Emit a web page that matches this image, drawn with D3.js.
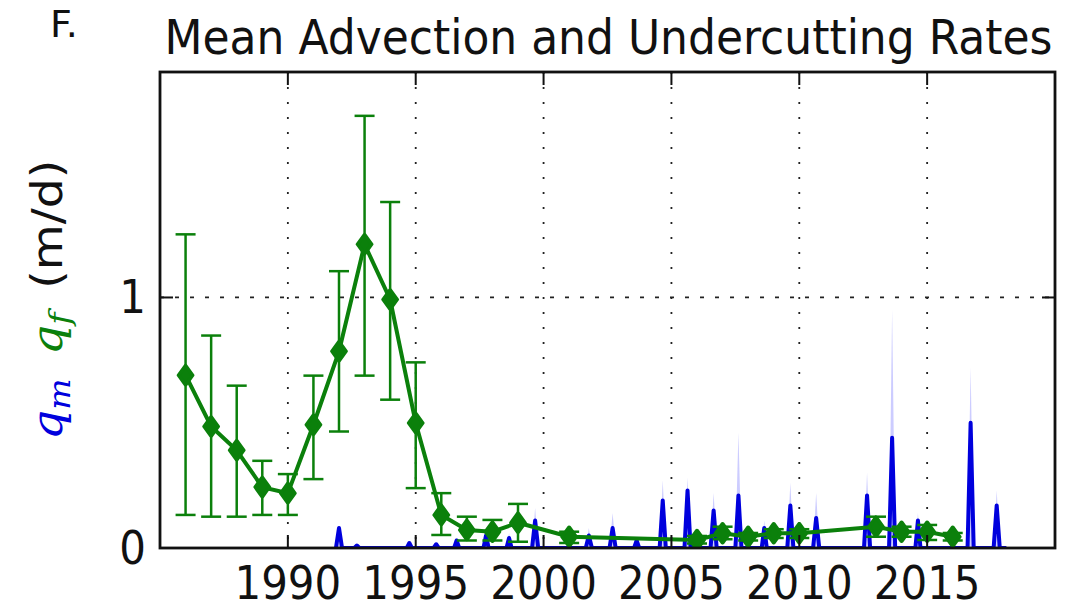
<!DOCTYPE html>
<html>
<head>
<meta charset="utf-8">
<script src="https://cdn.jsdelivr.net/npm/d3@7"></script>
<style>
    body { margin: 0; background: #fff; }
    #chart { width: 1069px; height: 611px; }
    text { font-family: "DejaVu Sans", sans-serif; fill: #111; }
</style>
</head>
<body>
<div id="chart"></div>
<script>
// q_f : yearly mean undercutting rate (m/d) with error bar limits
const qfYears  = [1986, 1987, 1988, 1989, 1990, 1991, 1992, 1993, 1994, 1995, 1996, 1997, 1998, 1999, 2001, 2006, 2007, 2008, 2009, 2010, 2013, 2014, 2015, 2016];
const qfValues = [0.69, 0.485, 0.39, 0.243, 0.219, 0.492, 0.785, 1.212, 0.992, 0.499, 0.132, 0.072, 0.065, 0.101, 0.045, 0.032, 0.059, 0.045, 0.059, 0.059, 0.085, 0.065, 0.065, 0.045];
const qfLower  = [0.132, 0.125, 0.125, 0.132, 0.132, 0.275, 0.465, 0.688, 0.592, 0.239, 0.052, 0.03, 0.03, 0.025, 0.02, 0.018, 0.035, 0.03, 0.04, 0.04, 0.045, 0.045, 0.032, 0.03];
const qfUpper  = [1.252, 0.848, 0.648, 0.348, 0.295, 0.688, 1.105, 1.725, 1.381, 0.741, 0.219, 0.125, 0.112, 0.176, 0.065, 0.048, 0.085, 0.06, 0.075, 0.075, 0.125, 0.085, 0.092, 0.06];

// q_m : advection rate series (summer spikes) and its upper uncertainty
const qmTimes  = [1991.88, 1992.0, 1992.12, 1992.6, 1992.7, 1992.8, 1994.65, 1994.75, 1994.85, 1995.7, 1995.8, 1995.9,
                  1996.5, 1996.6, 1996.7, 1997.65, 1997.75, 1997.85, 1998.55, 1998.65, 1998.75, 1999.55, 1999.67, 1999.79,
                  2001.65, 2001.77, 2001.89, 2002.58, 2002.7, 2002.82, 2003.54, 2003.64, 2003.74, 2004.54, 2004.66, 2004.78,
                  2005.51, 2005.63, 2005.75, 2006.53, 2006.65, 2006.77, 2007.5, 2007.62, 2007.74, 2008.53, 2008.63, 2008.73,
                  2009.53, 2009.65, 2009.77, 2010.54, 2010.66, 2010.78, 2012.53, 2012.65, 2012.77, 2013.51, 2013.63, 2013.75,
                  2014.54, 2014.64, 2014.74, 2016.58, 2016.7, 2016.82, 2017.6, 2017.72, 2017.84, 2018.1];
const qmValues = [0, 0.08, 0, 0, 0.01, 0, 0, 0.02, 0, 0, 0.015, 0,
                  0, 0.03, 0, 0, 0.05, 0, 0, 0.04, 0, 0, 0.11, 0,
                  0, 0.05, 0, 0, 0.08, 0, 0, 0.03, 0, 0, 0.19, 0,
                  0, 0.23, 0, 0, 0.15, 0, 0, 0.21, 0, 0, 0.08, 0,
                  0, 0.17, 0, 0, 0.12, 0, 0, 0.21, 0, 0, 0.44, 0,
                  0, 0.11, 0, 0, 0.5, 0, 0, 0.17, 0, 0];
const qmUpper  = [0, 0.09, 0, 0, 0.015, 0, 0, 0.03, 0, 0, 0.02, 0,
                  0, 0.04, 0, 0, 0.07, 0, 0, 0.06, 0, 0, 0.16, 0,
                  0, 0.08, 0, 0, 0.14, 0, 0, 0.04, 0, 0, 0.27, 0,
                  0, 0.28, 0, 0, 0.22, 0, 0, 0.46, 0, 0, 0.11, 0,
                  0, 0.26, 0, 0, 0.22, 0, 0, 0.3, 0, 0, 0.95, 0,
                  0, 0.14, 0, 0, 0.72, 0, 0, 0.23, 0, 0];

const xTicks = [1990, 1995, 2000, 2005, 2010, 2015];
const yTicks = [0, 1];

class RatesVis {

    constructor(parentElement) {
        this.parentElement = parentElement;
        this.initVis();
    }

    initVis() {
        let vis = this;

        vis.margin = {top: 72, right: 14, bottom: 63, left: 160};
        vis.outerW = 1069;
        vis.outerH = 611;
        vis.width = vis.outerW - vis.margin.left - vis.margin.right;
        vis.height = vis.outerH - vis.margin.top - vis.margin.bottom;

        vis.svg = d3.select("#" + vis.parentElement).append("svg")
            .attr("width", vis.outerW)
            .attr("height", vis.outerH);

        vis.g = vis.svg.append("g")
            .attr("transform", `translate(${vis.margin.left},${vis.margin.top})`);

        vis.x = d3.scaleLinear().domain([1985, 2020]).range([0, vis.width]);
        vis.y = d3.scaleLinear().domain([0, 1.9]).range([vis.height, 0]);

        vis.svg.append("defs").append("clipPath").attr("id", "plotClip")
            .append("rect").attr("width", vis.width).attr("height", vis.height);

        vis.updateVis();
    }

    updateVis() {
        let vis = this;

        // grid lines (dotted)
        vis.g.append("g").selectAll("line")
            .data(xTicks).enter().append("line")
            .attr("x1", d => vis.x(d)).attr("x2", d => vis.x(d))
            .attr("y1", 0).attr("y2", vis.height)
            .attr("stroke", "#222").attr("stroke-width", 1.8)
            .attr("stroke-dasharray", "2,13");

        vis.g.append("g").selectAll("line")
            .data(yTicks.filter(d => d > 0)).enter().append("line")
            .attr("x1", 0).attr("x2", vis.width)
            .attr("y1", d => vis.y(d)).attr("y2", d => vis.y(d))
            .attr("stroke", "#222").attr("stroke-width", 1.8)
            .attr("stroke-dasharray", "4,11");

        let plot = vis.g.append("g").attr("clip-path", "url(#plotClip)");

        // q_m uncertainty band + line
        let qm = qmTimes.map((t, i) => ({t: t, v: qmValues[i], u: qmUpper[i]}));

        plot.append("path")
            .datum(qm)
            .attr("fill", "rgba(50,50,255,0.25)")
            .attr("d", d3.area().x(d => vis.x(d.t)).y0(vis.y(0)).y1(d => vis.y(d.u)));

        plot.append("path")
            .datum(qm)
            .attr("fill", "none")
            .attr("stroke", "#0000dd")
            .attr("stroke-width", 4)
            .attr("stroke-linejoin", "round")
            .attr("d", d3.line().x(d => vis.x(d.t)).y(d => vis.y(d.v)));

        // q_f error bars, line and markers
        let qf = qfYears.map((yr, i) => ({t: yr, v: qfValues[i], lo: qfLower[i], hi: qfUpper[i]}));
        let green = "#0b800b";

        let bars = plot.append("g").selectAll("g").data(qf).enter().append("g")
            .attr("stroke", green).attr("stroke-width", 2.5);
        bars.append("line")
            .attr("x1", d => vis.x(d.t)).attr("x2", d => vis.x(d.t))
            .attr("y1", d => vis.y(d.lo)).attr("y2", d => vis.y(d.hi));
        bars.append("line")
            .attr("x1", d => vis.x(d.t) - 10).attr("x2", d => vis.x(d.t) + 10)
            .attr("y1", d => vis.y(d.lo)).attr("y2", d => vis.y(d.lo));
        bars.append("line")
            .attr("x1", d => vis.x(d.t) - 10).attr("x2", d => vis.x(d.t) + 10)
            .attr("y1", d => vis.y(d.hi)).attr("y2", d => vis.y(d.hi));

        plot.append("path")
            .datum(qf)
            .attr("fill", "none")
            .attr("stroke", green)
            .attr("stroke-width", 4)
            .attr("d", d3.line().x(d => vis.x(d.t)).y(d => vis.y(d.v)));

        plot.append("g").selectAll("path").data(qf).enter().append("path")
            .attr("transform", d => `translate(${vis.x(d.t)},${vis.y(d.v)}) scale(1.25,1)`)
            .attr("d", d3.symbol().type(d3.symbolDiamond).size(110))
            .attr("stroke", green).attr("stroke-width", 3).attr("stroke-linejoin", "round")
            .attr("fill", green);

        // inward ticks on all four sides
        let tickLen = 13;
        let ticks = vis.g.append("g").attr("stroke", "#111").attr("stroke-width", 2);
        xTicks.forEach(d => {
            ticks.append("line").attr("x1", vis.x(d)).attr("x2", vis.x(d))
                .attr("y1", vis.height).attr("y2", vis.height - tickLen);
            ticks.append("line").attr("x1", vis.x(d)).attr("x2", vis.x(d))
                .attr("y1", 0).attr("y2", tickLen);
        });
        yTicks.forEach(d => {
            ticks.append("line").attr("x1", 0).attr("x2", tickLen)
                .attr("y1", vis.y(d)).attr("y2", vis.y(d));
            ticks.append("line").attr("x1", vis.width).attr("x2", vis.width - tickLen)
                .attr("y1", vis.y(d)).attr("y2", vis.y(d));
        });

        // frame
        vis.g.append("rect")
            .attr("width", vis.width).attr("height", vis.height)
            .attr("fill", "none").attr("stroke", "#111").attr("stroke-width", 2.8);

        // tick labels (slightly tall, like the reference)
        vis.g.append("g").selectAll("text").data(xTicks).enter().append("text")
            .attr("transform", d => `translate(${vis.x(d)},${vis.height + 51}) scale(1,1.1)`)
            .attr("text-anchor", "middle")
            .style("font-size", "42px")
            .text(d => d);

        vis.g.append("g").selectAll("text").data(yTicks).enter().append("text")
            .attr("transform", d => `translate(-14,${vis.y(d) + 16}) scale(1,1.12)`)
            .attr("text-anchor", "end")
            .style("font-size", "42px")
            .text(d => d);

        // title and panel letter
        vis.svg.append("text")
            .attr("transform", `translate(${vis.margin.left + vis.width / 2 + 1},54) scale(1,1.08)`)
            .attr("text-anchor", "middle")
            .style("font-size", "44px")
            .text("Mean Advection and Undercutting Rates");

        vis.svg.append("text")
            .attr("x", 50).attr("y", 37)
            .style("font-size", "38px")
            .text("F.");

        // y label: q_m (blue)  q_f (green)  (m/d)
        let serif = "'DejaVu Serif', serif";
        let ylab = vis.svg.append("text")
            .attr("transform", `translate(62,300) rotate(-90) scale(1.1,1)`)
            .attr("text-anchor", "middle")
            .style("font-size", "43px");
        ylab.append("tspan").style("font-family", serif).style("font-style", "italic")
            .style("fill", "#0000dd").text("q");
        ylab.append("tspan").style("font-family", serif).style("font-style", "italic")
            .style("fill", "#0000dd").style("font-size", "30px").attr("dy", 8).text("m");
        ylab.append("tspan").attr("dy", -8).text("\u2002");
        ylab.append("tspan").style("font-family", serif).style("font-style", "italic")
            .style("fill", green).text("q");
        ylab.append("tspan").style("font-family", serif).style("font-style", "italic")
            .style("fill", green).style("font-size", "30px").attr("dy", 8).text("f");
        ylab.append("tspan").attr("dy", -8).text("\u2002(m/d)");
    }
}

new RatesVis("chart");
</script>
</body>
</html>
